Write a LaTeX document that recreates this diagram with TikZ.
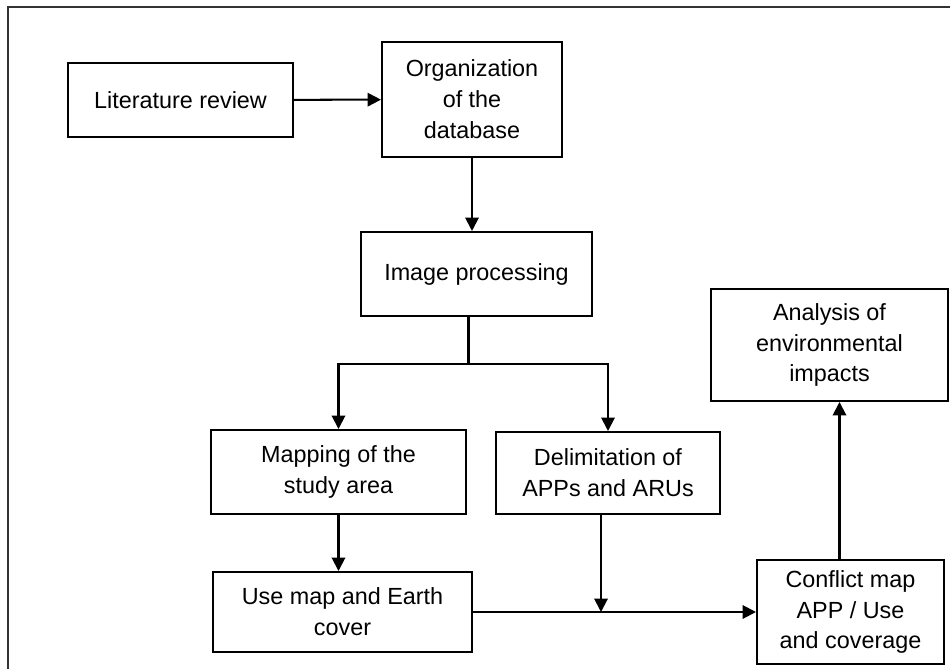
\documentclass[tikz,border=0pt]{standalone}
\usepackage{fontspec}
\setmainfont{Liberation Sans}
\usetikzlibrary{arrows.meta}

\tikzstyle{stage}=[draw, line width=1.15pt, align=center, inner sep=0pt,
  font=\fontsize{13.3}{17.6}\selectfont]
\tikzstyle{flow}=[line width=1.15pt, -{Triangle[length=2.7mm,width=2.7mm]}]

\begin{document}
\begin{tikzpicture}[x=0.02cm, y=-0.02cm]
            \useasboundingbox (0,0) rectangle (950,669);
            \draw[line width=1.5pt, black!80] (8,669) -- (8,7) -- (950,7);
            \node[stage, minimum width=4.5cm, minimum height=1.48cm] at (180.5,100) (lit) {Literature review};
            \node[stage, minimum width=3.6cm, minimum height=2.3cm] at (472,99.5) (org) {Organization\\of the\\database};
            \node[stage, minimum width=4.62cm, minimum height=1.68cm] at (476.5,274) (img) {Image processing};
            \node[stage, minimum width=5.1cm, minimum height=1.68cm] at (338.5,472) (map) {Mapping of the\\study area};
            \node[stage, minimum width=4.48cm, minimum height=1.64cm] at (608,473) (del) {Delimitation of\\APPs and ARUs};
            \node[stage, minimum width=5.18cm, minimum height=1.6cm] at (342.5,612) (use) {Use map and Earth\\cover};
            \node[stage, minimum width=3.74cm, minimum height=2.08cm] at (850.5,612) (conf) {Conflict map\\APP / Use\\and coverage};
            \node[stage, minimum width=4.74cm, minimum height=2.24cm] at (829.5,345) (ana) {Analysis of\\environmental\\impacts};
            \draw[flow] (lit) -- (org);
            \draw[flow] (org.south) -- (org.south |- img.north);
            \path (img.south) ++(-8,47) coordinate (fork);
            \draw[line width=1.15pt] (img.south -| fork) -- (fork);
            \draw[flow] (fork) -| (map.north);
            \draw[flow] (fork) -| (del.north);
            \draw[flow] (map.south) -- (map.south |- use.north);
            \draw[flow] (use.east) -- (conf.west);
            \draw[flow] ([xshift=-0.14cm]del.south) -- ([xshift=-0.14cm]del.south |- use.east);
            \path (conf.north) ++(-11,0) coordinate (up);
            \draw[flow] (up) -- (up |- ana.south);
        \end{tikzpicture}
\end{document}
